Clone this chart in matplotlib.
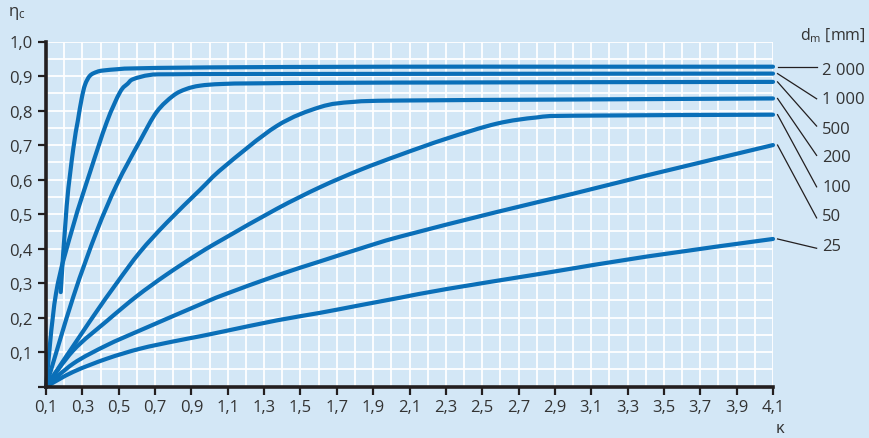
import matplotlib
matplotlib.use("Agg")
import matplotlib.pyplot as plt
from matplotlib.ticker import MultipleLocator
from matplotlib.path import Path
from matplotlib.patches import PathPatch

plt.rcParams['font.family'] = ['Open Sans', 'DejaVu Sans']
plt.rcParams['mathtext.fontset'] = 'custom'
plt.rcParams['mathtext.rm'] = 'Open Sans'
plt.rcParams['mathtext.it'] = 'Open Sans'

# ---- data ----
x_2000 = [0.181, 0.214, 0.25, 0.275, 0.296, 0.315, 0.342, 0.38, 0.415, 0.5, 0.58, 1.0, 2.0, 3.0, 4.1]
y_2000 = [0.274, 0.525, 0.689, 0.77, 0.834, 0.875, 0.901, 0.912, 0.916, 0.920, 0.922, 0.925, 0.927, 0.927, 0.927]

x_1000 = [0.1, 0.155, 0.25, 0.342, 0.434, 0.507, 0.55, 0.58, 0.672, 0.8, 1.5, 4.1]
y_1000 = [0.0, 0.27, 0.467, 0.621, 0.766, 0.853, 0.878, 0.891, 0.903, 0.905, 0.906, 0.907]

x_500 = [0.1, 0.25, 0.379, 0.489, 0.617, 0.709, 0.80, 0.87, 0.947, 1.07, 1.3, 2.0, 4.1]
y_500 = [0.0, 0.26, 0.45, 0.585, 0.712, 0.796, 0.843, 0.862, 0.872, 0.877, 0.879, 0.881, 0.883]

x_200 = [0.1, 0.342, 0.489, 0.617, 0.764, 0.947, 1.076, 1.369, 1.608, 1.79, 2.05, 3.0, 4.1]
y_200 = [0.0, 0.19, 0.30, 0.39, 0.475, 0.57, 0.635, 0.755, 0.81, 0.825, 0.829, 0.832, 0.835]

x_100 = [0.1, 0.25, 0.434, 0.599, 0.764, 0.947, 1.076, 1.369, 1.608, 1.828, 2.05, 2.3, 2.58, 2.8, 3.0, 4.1]
y_100 = [0.0, 0.105, 0.19, 0.262, 0.325, 0.388, 0.428, 0.515, 0.578, 0.628, 0.672, 0.718, 0.762, 0.780, 0.785, 0.788]

x_50 = [0.1, 0.25, 0.434, 0.617, 0.947, 1.076, 1.369, 1.608, 1.828, 2.05, 2.58, 3.0, 3.405, 4.1]
y_50 = [0.0, 0.067, 0.12, 0.163, 0.238, 0.266, 0.322, 0.363, 0.400, 0.435, 0.506, 0.559, 0.612, 0.700]

x_25 = [0.1, 0.25, 0.434, 0.617, 0.80, 0.947, 1.076, 1.369, 1.608, 1.828, 2.05, 2.305, 2.855, 3.405, 4.1]
y_25 = [0.0, 0.043, 0.081, 0.11, 0.131, 0.146, 0.16, 0.192, 0.214, 0.236, 0.258, 0.283, 0.330, 0.377, 0.428]

series_x = [x_2000, x_1000, x_500, x_200, x_100, x_50, x_25]
series_y = [y_2000, y_1000, y_500, y_200, y_100, y_50, y_25]
labels = ["2 000", "1 000", "500", "200", "100", "50", "25"]
label_y = [0.918, 0.834, 0.747, 0.665, 0.579, 0.494, 0.408]
leader_end_y = [0.927, 0.834, 0.755, 0.670, 0.579, 0.489, 0.401]

x_ticks = [0.1, 0.3, 0.5, 0.7, 0.9, 1.1, 1.3, 1.5, 1.7, 1.9, 2.1, 2.3, 2.5, 2.7, 2.9, 3.1, 3.3, 3.5, 3.7, 3.9, 4.1]
x_ticklabels = ["0,1", "0,3", "0,5", "0,7", "0,9", "1,1", "1,3", "1,5", "1,7", "1,9", "2,1",
                "2,3", "2,5", "2,7", "2,9", "3,1", "3,3", "3,5", "3,7", "3,9", "4,1"]
y_ticks = [0.0, 0.1, 0.2, 0.3, 0.4, 0.5, 0.6, 0.7, 0.8, 0.9, 1.0]
y_ticklabels = ["", "0,1", "0,2", "0,3", "0,4", "0,5", "0,6", "0,7", "0,8", "0,9", "1,0"]

# ---- styling ----
BG = "#d3e7f6"
BLUE = "#0a6fb8"
DARK = "#231f20"
TXT = "#333333"
FS = 12


def smooth_path(xs, ys):
    """Bezier path through the read points (Catmull-Rom tangents)."""
    pts = list(zip(xs, ys))
    n = len(pts)
    verts = [pts[0]]
    codes = [Path.MOVETO]
    for i in range(n - 1):
        p0 = pts[i - 1] if i > 0 else pts[i]
        p1 = pts[i]
        p2 = pts[i + 1]
        p3 = pts[i + 2] if i + 2 < n else pts[i + 1]
        c1 = (p1[0] + (p2[0] - p0[0]) / 6.0, p1[1] + (p2[1] - p0[1]) / 6.0)
        c2 = (p2[0] - (p3[0] - p1[0]) / 6.0, p2[1] - (p3[1] - p1[1]) / 6.0)
        verts += [c1, c2, p2]
        codes += [Path.CURVE4] * 3
    return Path(verts, codes)


fig = plt.figure(figsize=(8.7, 4.39), dpi=100, facecolor=BG)
ax = fig.add_axes([46 / 870, 51.3 / 439, 727 / 870, 345.2 / 439])
ax.set_facecolor(BG)

ax.set_xlim(0.1, 4.1)
ax.set_ylim(0.0, 1.0)

ax.xaxis.set_minor_locator(MultipleLocator(0.1))
ax.yaxis.set_minor_locator(MultipleLocator(0.05))
ax.grid(which='both', color='white', linewidth=1.3, zorder=0)
ax.set_axisbelow(True)

for xs, ys in zip(series_x, series_y):
    patch = PathPatch(smooth_path(xs, ys), facecolor='none', edgecolor=BLUE,
                      linewidth=3.0, capstyle='round', joinstyle='round',
                      zorder=3, clip_on=False)
    ax.add_patch(patch)

ax.set_xticks(x_ticks)
ax.set_xticklabels(x_ticklabels)
ax.set_yticks(y_ticks)
ax.set_yticklabels(y_ticklabels)

ax.tick_params(which='major', direction='out', length=5.5, width=1.6, color=DARK,
               labelsize=FS, labelcolor=TXT)
ax.tick_params(axis='x', pad=3)
ax.tick_params(axis='y', pad=4)
ax.tick_params(which='minor', length=0)

for s in ['top', 'right']:
    ax.spines[s].set_visible(False)
for s in ['left', 'bottom']:
    ax.spines[s].set_color(DARK)
    ax.spines[s].set_linewidth(2.6)
    ax.spines[s].set_zorder(4)

# leader lines and labels
for xs, ys, lab, ly, le in zip(series_x, series_y, labels, label_y, leader_end_y):
    ax.plot([4.125, 4.34], [ys[-1], le], color=DARK, linewidth=0.9, clip_on=False, zorder=5)
    ax.text(4.37, ly, lab, fontsize=FS, color=TXT, ha='left', va='center', clip_on=False)

fig.text(866 / 870, 1 - 36 / 439, r"d$_\mathrm{m}$ [mm]", fontsize=11.5, color=TXT,
         ha='right', va='center')
fig.text(8 / 870, 1 - 14 / 439, r"η$_\mathrm{c}$", fontsize=FS, color=TXT,
         ha='left', va='center')
fig.text(780 / 870, 1 - 429 / 439, "κ", fontsize=FS, color=TXT, ha='center', va='center')

fig.savefig("out.png", dpi=100, facecolor=BG)
